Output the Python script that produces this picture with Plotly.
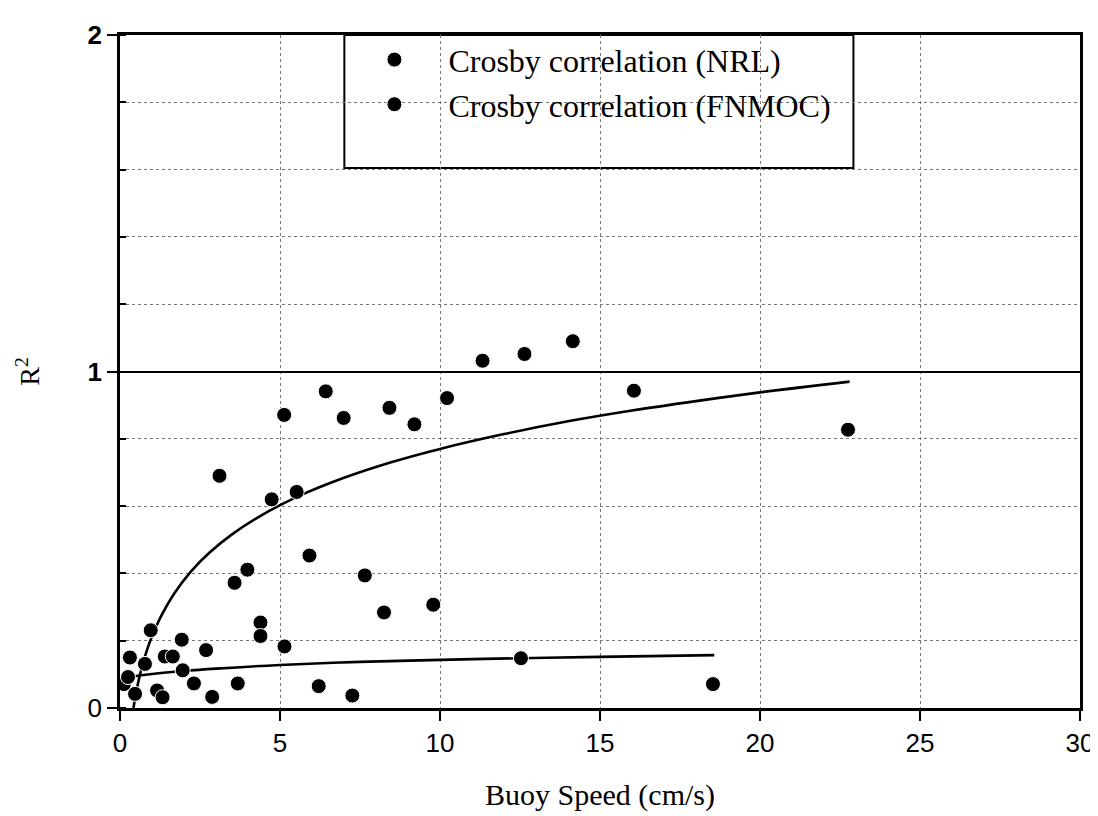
import plotly.graph_objects as go

# ---- data ----
nrl_speed = [0.96, 3.11, 3.58, 3.98, 4.39, 4.74, 5.13, 5.52, 5.92, 6.43, 6.99, 7.65,
             8.25, 8.42, 9.20, 9.79, 10.22, 11.33, 12.64, 14.15, 16.06, 22.75]
nrl_r2 = [0.231, 0.690, 0.372, 0.411, 0.254, 0.620, 0.871, 0.642, 0.453, 0.941, 0.862, 0.394,
          0.284, 0.892, 0.843, 0.307, 0.921, 1.032, 1.052, 1.090, 0.943, 0.827]

fnmoc_speed = [0.12, 0.25, 0.31, 0.47, 0.78, 1.16, 1.33, 1.40, 1.65, 1.96, 1.93, 2.31,
               2.69, 2.88, 3.68, 4.39, 5.14, 6.21, 7.26, 12.53, 18.53]
fnmoc_r2 = [0.071, 0.092, 0.150, 0.042, 0.131, 0.052, 0.032, 0.153, 0.153, 0.112, 0.203, 0.073,
            0.172, 0.033, 0.073, 0.214, 0.183, 0.065, 0.037, 0.148, 0.071]

# trend curves
nrl_fit_x = [0.42, 0.55, 0.7, 0.85, 1.0, 1.3, 1.7, 2.2, 2.8, 3.5, 4.5, 5.5, 7, 8.5,
             10, 12, 14, 16, 18, 20, 22.8]
nrl_fit_y = [0.0, 0.068, 0.127, 0.174, 0.213, 0.276, 0.341, 0.404, 0.462, 0.516, 0.577,
             0.626, 0.684, 0.731, 0.770, 0.814, 0.852, 0.884, 0.912, 0.938, 0.970]
fnmoc_fit_x = [0.18, 0.5, 1, 2, 3, 5, 7.5, 10, 12.5, 15, 18.57]
fnmoc_fit_y = [0.086, 0.095, 0.101, 0.110, 0.117, 0.128, 0.137, 0.143, 0.148, 0.152, 0.157]

x_ticks = [0, 5, 10, 15, 20, 25, 30]
y_ticks = [0, 1, 2]
y_ticktext = ["0", "<b>1</b>", "<b>2</b>"]

series_names = ["Crosby correlation (NRL)", "Crosby correlation (FNMOC)"]

fig = go.Figure()

fig.add_trace(go.Scatter(x=nrl_fit_x, y=nrl_fit_y, mode="lines", showlegend=False,
                         line=dict(color="black", width=2.6, shape="spline"), hoverinfo="skip"))
fig.add_trace(go.Scatter(x=fnmoc_fit_x, y=fnmoc_fit_y, mode="lines", showlegend=False,
                         line=dict(color="black", width=2.6, shape="spline"), hoverinfo="skip"))

marker = dict(color="black", size=15, line=dict(color="white", width=1))
fig.add_trace(go.Scatter(x=nrl_speed, y=nrl_r2, mode="markers", name=series_names[0], marker=marker))
fig.add_trace(go.Scatter(x=fnmoc_speed, y=fnmoc_r2, mode="markers", name=series_names[1], marker=marker))

# legend frame
fig.add_shape(type="rect", xref="paper", yref="paper", x0=0.2337, x1=0.764, y0=0.8024, y1=1.0,
              line=dict(color="black", width=2), fillcolor="white", layer="between")

fig.update_layout(
    width=1098, height=816,
    margin=dict(l=112, r=19, t=22, b=116),
    paper_bgcolor="white", plot_bgcolor="white",
    showlegend=True,
    legend=dict(x=0.2296, y=1.004, xanchor="left", yanchor="top",
                bgcolor="rgba(0,0,0,0)", borderwidth=0, itemwidth=98,
                font=dict(family="Liberation Serif", size=32, color="black")),
    xaxis=dict(range=[0, 30], tickvals=x_ticks, showgrid=True, gridcolor="#777",
               griddash="dot", gridwidth=1, zeroline=False,
               showline=True, linecolor="black", linewidth=2.5, mirror=True,
               ticks="outside", ticklen=10, tickwidth=2, tickcolor="black",
               tickfont=dict(family="Liberation Sans", size=26, color="black"),
               title=dict(text="Buoy Speed (cm/s)", standoff=28,
                          font=dict(family="Liberation Serif", size=30, color="black"))),
    yaxis=dict(range=[0, 2], tickvals=y_ticks, ticktext=y_ticktext, showgrid=True,
               gridcolor="black", gridwidth=2, zeroline=False,
               showline=True, linecolor="black", linewidth=2.5, mirror=True,
               ticks="outside", ticklen=10, tickwidth=2, tickcolor="black",
               tickfont=dict(family="Liberation Sans", size=26, color="black"),
               minor=dict(dtick=0.2, showgrid=True, gridcolor="#777", griddash="dot",
                          gridwidth=1, ticks="inside", ticklen=6, tickcolor="black"),
               title=dict(text="R<sup>2</sup>", standoff=40,
                          font=dict(family="Liberation Serif", size=28, color="black"))),
)

fig.write_html("out.html")
